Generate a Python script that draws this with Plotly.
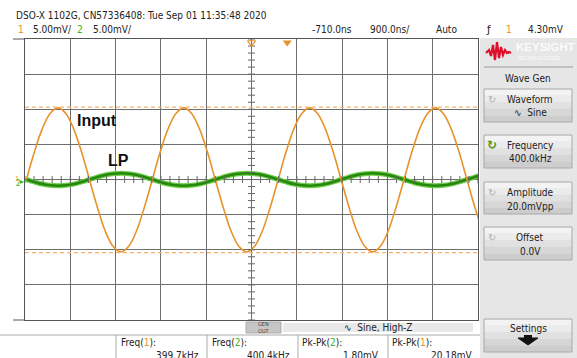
import plotly.graph_objects as go

W, H = 577, 358

# ---------------- data read from the screen ----------------
# time in microseconds, voltages in mV
t_us = [-5.180, -5.024, -4.868, -4.711, -4.555, -4.399, -4.243, -4.086,
        -3.930, -3.774, -3.618, -3.461, -3.305, -3.149, -2.993, -2.836,
        -2.680, -2.524, -2.368, -2.211, -2.055, -1.899, -1.743, -1.586,
        -1.430, -1.274, -1.118, -0.961, -0.805, -0.649, -0.493, -0.336,
        -0.180, -0.024, 0.132, 0.289, 0.445, 0.601, 0.757, 0.914,
        1.070, 1.226, 1.382, 1.539, 1.695, 1.851, 2.007, 2.164,
        2.320, 2.476, 2.632, 2.789, 2.945, 3.101, 3.257, 3.414,
        3.570, 3.726, 3.882]
ch1_input_mV = [0.0, 3.9, 7.2, 9.4, 10.2, 9.4, 7.2, 3.9,
                0.0, -3.9, -7.3, -9.5, -10.3, -9.5, -7.3, -3.9,
                0.0, 3.9, 7.2, 9.4, 10.2, 9.4, 7.2, 3.9,
                0.0, -3.9, -7.3, -9.5, -10.3, -9.5, -7.3, -3.9,
                0.0, 3.9, 7.2, 9.4, 10.2, 9.4, 7.2, 3.9,
                0.0, -3.9, -7.3, -9.5, -10.3, -9.5, -7.3, -3.9,
                0.0, 3.9, 7.2, 9.4, 10.2, 9.4, 7.2, 3.9,
                0.0, -3.9, -7.3]
ch2_lp_mV = [0.0, -0.35, -0.65, -0.83, -0.9, -0.83, -0.65, -0.35,
             0.0, 0.35, 0.65, 0.83, 0.9, 0.83, 0.65, 0.35,
             0.0, -0.35, -0.65, -0.83, -0.9, -0.83, -0.65, -0.35,
             0.0, 0.35, 0.65, 0.83, 0.9, 0.83, 0.65, 0.35,
             0.0, -0.35, -0.65, -0.83, -0.9, -0.83, -0.65, -0.35,
             0.0, 0.35, 0.65, 0.83, 0.9, 0.83, 0.65, 0.35,
             0.0, -0.35, -0.65, -0.83, -0.9, -0.83, -0.65, -0.35,
             0.0, 0.35, 0.65]
cursor_levels_mV = [10.3, -10.4]
time_per_div_us = 0.9
delay_us = -0.71
volts_per_div_mV = 5.0
trigger_time_us = 0.0

x_range = [delay_us - 5 * time_per_div_us, delay_us + 5 * time_per_div_us]
y_range = [-4 * volts_per_div_mV, 4 * volts_per_div_mV]

ORANGE = "#e8922a"
ORANGE_L = "#f6b36a"
GREEN = "#25870c"
GREEN_L = "#6fcd4e"
NARROW = "Liberation Sans Narrow, DejaVu Sans Condensed, Arial Narrow, sans-serif"


def px(x):
    return x / W


def py(y):
    return 1 - y / H


fig = go.Figure()

# LP trace (thick with halo)
fig.add_trace(go.Scatter(x=t_us, y=ch2_lp_mV, mode="lines",
                         line=dict(color=GREEN_L, width=5, shape="spline"),
                         hoverinfo="skip", showlegend=False))
fig.add_trace(go.Scatter(x=t_us, y=ch2_lp_mV, mode="lines",
                         line=dict(color=GREEN, width=2.6, shape="spline"),
                         hoverinfo="skip", showlegend=False))
# Input trace
fig.add_trace(go.Scatter(x=t_us, y=ch1_input_mV, mode="lines",
                         line=dict(color=ORANGE, width=1.6, shape="spline"),
                         hoverinfo="skip", showlegend=False))

# center-axis minor ticks
n_v = 41
vt_y = [y_range[0] + i * volts_per_div_mV / 5 for i in range(n_v)]
fig.add_trace(go.Scatter(x=[delay_us] * n_v, y=vt_y, mode="markers",
                         marker=dict(symbol="line-ew", size=5,
                                     line=dict(color="#666", width=1)),
                         hoverinfo="skip", showlegend=False))
n_h = 51
ht_x = [x_range[0] + i * time_per_div_us / 5 for i in range(n_h)]
fig.add_trace(go.Scatter(x=ht_x, y=[0] * n_h, mode="markers",
                         marker=dict(symbol="line-ns", size=5,
                                     line=dict(color="#666", width=1)),
                         hoverinfo="skip", showlegend=False))

# trigger / delay markers on top edge
fig.add_trace(go.Scatter(x=[trigger_time_us], y=[y_range[1] - 0.5], mode="markers",
                         marker=dict(symbol="triangle-down", size=8, color=ORANGE),
                         cliponaxis=False, hoverinfo="skip", showlegend=False))
fig.add_trace(go.Scatter(x=[delay_us], y=[y_range[1] - 0.5], mode="markers",
                         marker=dict(symbol="triangle-down-open", size=7, color=ORANGE,
                                     line=dict(width=1.2)),
                         cliponaxis=False, hoverinfo="skip", showlegend=False))

shapes = []
# cursor dashed lines
for lv in cursor_levels_mV:
    shapes.append(dict(type="line", xref="paper", yref="y", x0=px(25), x1=px(479),
                       y0=lv, y1=lv, line=dict(color=ORANGE_L, width=1.2, dash="4px,3px")))

# frame extensions to the left
for yy in (39, 320):
    shapes.append(dict(type="line", xref="paper", yref="paper", x0=px(13), x1=px(25),
                       y0=py(yy), y1=py(yy), line=dict(color="#555", width=1)))

# right panel
shapes.append(dict(type="rect", xref="paper", yref="paper", x0=px(480), x1=1,
                   y0=0, y1=py(38), fillcolor="#e6e6e6", line=dict(width=0), layer="below"))
shapes.append(dict(type="line", xref="paper", yref="paper", x0=px(484), x1=px(573),
                   y0=py(67), y1=py(67), line=dict(color="#9a9a9a", width=1)))

# keysight logo wave
lx = [486, 489, 491, 493, 495, 497, 499, 501, 503, 505, 507, 509, 511]
ly = [53, 50, 56, 45, 60, 42, 58, 47, 55, 50, 53, 52, 53]
path = "M " + " L ".join(f"{px(a):.5f},{py(b):.5f}" for a, b in zip(lx, ly))
shapes.append(dict(type="path", xref="paper", yref="paper", path=path,
                   line=dict(color="#e0102a", width=2.2)))


def button(y0, y1, x0=484, x1=572):
    grads = ["#f3f3f3", "#ebebeb", "#e1e1e1", "#d7d7d7", "#cdcdcd"]
    n = len(grads)
    h = (y1 - y0) / n
    for i, c in enumerate(grads):
        shapes.append(dict(type="rect", xref="paper", yref="paper",
                           x0=px(x0), x1=px(x1), y0=py(y0 + (i + 1) * h), y1=py(y0 + i * h),
                           fillcolor=c, line=dict(width=0)))
    shapes.append(dict(type="rect", xref="paper", yref="paper",
                       x0=px(x0), x1=px(x1), y0=py(y1), y1=py(y0),
                       fillcolor="rgba(0,0,0,0)", line=dict(color="#a8a8a8", width=1)))


buttons = [(89, 122), (135, 168), (182, 214), (227, 260), (319, 352)]
for b in buttons:
    button(*b)

# settings arrow
arrow = [(518, 338), (538, 338), (528, 345)]
shapes.append(dict(type="path", xref="paper", yref="paper",
                   path="M " + " L ".join(f"{px(a):.5f},{py(b):.5f}" for a, b in arrow) + " Z",
                   fillcolor="#111", line=dict(color="#111", width=1)))
shapes.append(dict(type="rect", xref="paper", yref="paper", x0=px(524), x1=px(532),
                   y0=py(338), y1=py(335), fillcolor="#111", line=dict(width=0)))

# bottom status strip
shapes.append(dict(type="rect", xref="paper", yref="paper", x0=px(246), x1=px(281),
                   y0=py(333), y1=py(322), fillcolor="#c6c6c6", line=dict(color="#aaa", width=1)))
shapes.append(dict(type="rect", xref="paper", yref="paper", x0=px(283), x1=px(473),
                   y0=py(332), y1=py(323), fillcolor="#e9e9e9", line=dict(width=0)))
shapes.append(dict(type="line", xref="paper", yref="paper", x0=0, x1=px(480),
                   y0=py(335), y1=py(335), line=dict(color="#aaa", width=1)))
for xx in (116, 207, 298, 388):
    shapes.append(dict(type="line", xref="paper", yref="paper", x0=px(xx), x1=px(xx),
                       y0=py(335), y1=0, line=dict(color="#aaa", width=1)))

ann = []


def txt(x, y, s, size=10, color="#222", anchor="left", font=NARROW, yanchor="middle"):
    ann.append(dict(x=px(x), y=py(y), xref="paper", yref="paper", text=s, showarrow=False,
                    xanchor=anchor, yanchor=yanchor,
                    font=dict(family=font, size=size, color=color)))


O = f"<span style='color:{ORANGE}'>"
G = "<span style='color:#3cb521'>"

# header
txt(14, 15, "DSO-X 1102G, CN57336408: Tue Sep 01 11:35:48 2020", 10)
txt(16, 30, f"{O}1</span>", 10)
txt(31, 30, "5.00mV/", 10)
txt(75, 30, f"{G}2</span>", 10)
txt(91, 30, "5.00mV/", 10)
txt(310, 30, "-710.0ns", 10)
txt(368, 30, "900.0ns/", 10)
txt(434, 30, "Auto", 10)
txt(484, 30, "ƒ", 11, "#111")
txt(504, 30, f"{O}1</span>", 10)
txt(566, 30, "4.30mV", 10, anchor="right")

# plot labels
ann.append(dict(x=-3.78, y=8.4, xref="x", yref="y", text="<b>Input</b>", showarrow=False,
                font=dict(family="Liberation Sans, Arial, sans-serif", size=16, color="#111")))
ann.append(dict(x=-3.35, y=2.7, xref="x", yref="y", text="<b>LP</b>", showarrow=False,
                font=dict(family="Liberation Sans, Arial, sans-serif", size=16, color="#111")))

# ground markers
txt(13, 179, f"{O}1</span>", 7, anchor="left")
txt(14, 183, f"{G}2</span>", 8, anchor="left")
txt(18, 181, f"{G}▸</span>", 8, anchor="left", font="DejaVu Sans")

# right panel text
txt(514, 47, "<b>KEYSIGHT</b>", 11.5, "#fbfbfb", font="Liberation Sans, Arial, sans-serif")
txt(515, 58, "TECHNOLOGIES", 5.5, "#fbfbfb", font="Liberation Sans, Arial, sans-serif")
txt(528, 79, "Wave Gen", 10, anchor="center")

labels = [("Waveform", "∿  Sine"), ("Frequency", "400.0kHz"),
          ("Amplitude", "20.0mVpp"), ("Offset", "0.0V")]
for (y0, y1), (l1, l2) in zip(buttons[:4], labels):
    txt(530, y0 + 10, l1, 10, anchor="center")
    txt(530, y0 + 24, l2, 10, anchor="center")
for i, (y0, y1) in enumerate(buttons[:4]):
    col = "#4f9a1c" if i == 1 else "#b0b0b0"
    txt(492, y0 + 10, "↻" if i != 1 else "<b>↻</b>", 10 if i != 1 else 12, col,
        anchor="center", font="DejaVu Sans")
txt(528, 328, "Settings", 10, anchor="center")

# bottom strip text
ann.append(dict(x=px(263.5), y=py(327.5), xref="paper", yref="paper", text="GEN<br>OUT",
                showarrow=False, xanchor="center", yanchor="middle",
                font=dict(family="DejaVu Sans Condensed", size=5.5, color="#444")))
txt(378, 327.5, "∿  Sine, High-Z", 10, anchor="center")

txt(119, 342, f"Freq({O}1</span>):", 10)
txt(201, 355, "399.7kHz", 10, anchor="right")
txt(210, 342, f"Freq({G}2</span>):", 10)
txt(292, 355, "400.4kHz", 10, anchor="right")
txt(300, 342, f"Pk-Pk({G}2</span>):", 10)
txt(381, 355, "1.80mV", 10, anchor="right")
txt(390, 342, f"Pk-Pk({O}1</span>):", 10)
txt(475, 355, "20.18mV", 10, anchor="right")

fig.update_layout(
    width=W, height=H, margin=dict(l=0, r=0, t=0, b=0),
    paper_bgcolor="white", plot_bgcolor="white",
    xaxis=dict(domain=[px(25), px(478)], range=x_range, tick0=delay_us,
               dtick=time_per_div_us, showgrid=True, gridcolor="#6e6e6e", gridwidth=1,
               zeroline=False, showticklabels=False, ticks="", showline=True,
               linecolor="#555", linewidth=1, mirror=True, fixedrange=True),
    yaxis=dict(domain=[py(320), py(39)], range=y_range, tick0=0,
               dtick=volts_per_div_mV, showgrid=True, gridcolor="#6e6e6e", gridwidth=1,
               zeroline=False, showticklabels=False, ticks="", showline=True,
               linecolor="#555", linewidth=1, mirror=True, fixedrange=True),
    shapes=shapes, annotations=ann, showlegend=False,
)

fig.write_html("out.html")
